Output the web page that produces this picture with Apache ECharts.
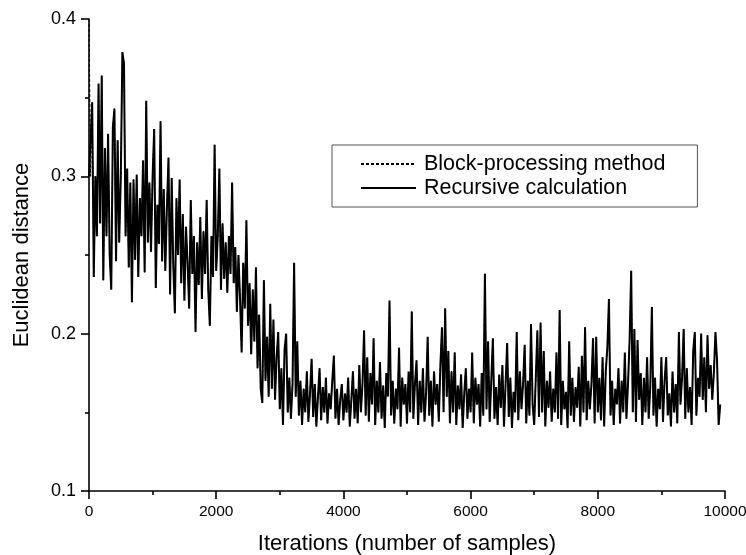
<!DOCTYPE html>
<html>
<head>
<meta charset="utf-8">
<script src="https://cdn.jsdelivr.net/npm/echarts@6/dist/echarts.min.js"></script>
<style>html,body{margin:0;padding:0;background:#fff}#c{width:746px;height:555px}</style>
</head>
<body>
<div id="c"></div>
<script>
const sampleStep = 25;
const xTicks = [0, 2000, 4000, 6000, 8000, 10000];
const yTicks = [0.1, 0.2, 0.3, 0.4];
const seriesNames = ['Block-processing method', 'Recursive calculation'];

// Recursive calculation (every 25 iterations)
const recursiveValues = [
0.300,0.300,0.347,0.236,0.300,0.262,0.359,0.270,0.364,0.234,0.318,0.262,0.327,0.250,0.228,0.331,0.343,0.246,0.323,0.258,
0.300,0.379,0.372,0.262,0.305,0.242,0.296,0.220,0.298,0.247,0.301,0.236,0.286,0.262,0.310,0.239,0.348,0.258,0.296,0.252,
0.300,0.330,0.229,0.282,0.257,0.335,0.246,0.292,0.240,0.280,0.312,0.225,0.299,0.244,0.213,0.286,0.250,0.298,0.232,0.276,
0.221,0.268,0.245,0.216,0.285,0.238,0.262,0.201,0.258,0.231,0.274,0.222,0.265,0.238,0.285,0.228,0.205,0.262,0.236,0.320,
0.240,0.262,0.305,0.228,0.270,0.235,0.258,0.226,0.262,0.238,0.296,0.232,0.255,0.214,0.250,0.222,0.188,0.245,0.216,0.272,
0.205,0.232,0.187,0.228,0.195,0.242,0.178,0.212,0.165,0.156,0.234,0.170,0.198,0.160,0.219,0.165,0.209,0.158,0.185,0.201,
0.152,0.178,0.142,0.190,0.200,0.150,0.172,0.146,0.168,0.245,0.160,0.195,0.148,0.170,0.142,0.165,0.150,0.176,0.144,0.162,
0.184,0.147,0.168,0.141,0.160,0.178,0.145,0.166,0.150,0.172,0.143,0.162,0.152,0.170,0.186,0.146,0.165,0.142,0.158,0.168,
0.145,0.162,0.150,0.172,0.141,0.158,0.176,0.146,0.165,0.143,0.180,0.150,0.168,0.202,0.148,0.185,0.144,0.175,0.155,0.197,
0.142,0.170,0.150,0.182,0.146,0.167,0.140,0.175,0.160,0.221,0.148,0.170,0.143,0.165,0.152,0.191,0.141,0.172,0.155,0.168,
0.143,0.176,0.150,0.214,0.146,0.168,0.183,0.142,0.170,0.150,0.178,0.144,0.162,0.198,0.148,0.170,0.141,0.176,0.155,0.168,
0.144,0.180,0.204,0.150,0.216,0.160,0.189,0.143,0.176,0.150,0.188,0.142,0.167,0.152,0.174,0.140,0.162,0.178,0.146,0.165,
0.150,0.188,0.143,0.172,0.155,0.168,0.141,0.175,0.148,0.238,0.152,0.195,0.144,0.170,0.197,0.146,0.166,0.142,0.174,0.153,
0.180,0.141,0.168,0.194,0.147,0.172,0.140,0.163,0.150,0.201,0.145,0.176,0.152,0.168,0.193,0.143,0.170,0.148,0.206,0.155,
0.142,0.172,0.202,0.147,0.207,0.150,0.189,0.141,0.170,0.153,0.176,0.144,0.165,0.150,0.188,0.146,0.215,0.142,0.170,0.152,
0.163,0.140,0.195,0.148,0.172,0.144,0.166,0.153,0.179,0.141,0.186,0.150,0.204,0.145,0.170,0.152,0.168,0.197,0.143,0.198,
0.150,0.172,0.145,0.185,0.141,0.176,0.191,0.222,0.148,0.170,0.142,0.165,0.155,0.178,0.143,0.170,0.150,0.188,0.146,0.168,
0.196,0.240,0.150,0.203,0.144,0.196,0.158,0.175,0.142,0.172,0.150,0.185,0.146,0.166,0.217,0.148,0.172,0.141,0.165,0.152,
0.185,0.144,0.170,0.185,0.148,0.162,0.141,0.176,0.150,0.168,0.143,0.201,0.155,0.172,0.203,0.146,0.178,0.150,0.166,0.142,
0.189,0.201,0.148,0.172,0.160,0.200,0.158,0.185,0.150,0.199,0.165,0.180,0.158,0.175,0.201,0.183,0.142,0.155
];
// Block-processing method: coincides with the recursive curve except its first value
const blockFirstValue = 0.400;
const blockValues = [blockFirstValue].concat(recursiveValues.slice(1));

const toPairs = vals => vals.map((v, i) => [i * sampleStep, v]);

const chart = echarts.init(document.getElementById('c'), null, {renderer: 'canvas'});
const font = 'Liberation Sans, Arial, sans-serif';
const axisLine = {show: true, onZero: false, lineStyle: {color: '#000', width: 1.6}};
const axisTick = {show: true, length: 8, lineStyle: {color: '#000', width: 1.6}};
const minorTick = {show: true, splitNumber: 2, length: 4, lineStyle: {color: '#000', width: 1.6}};
chart.setOption({
  animation: false,
  backgroundColor: '#fff',
  grid: {left: 89, right: 21, top: 19, bottom: 64, containLabel: false, outerBoundsMode: 'none'},
  legend: {
    orient: 'vertical', left: 332, top: 145,
    padding: [8, 32, 8, 28],
    itemGap: 2, itemWidth: 55, itemHeight: 14,
    backgroundColor: '#fff', borderColor: '#555', borderWidth: 1,
    itemStyle: {opacity: 0},
    textStyle: {fontFamily: font, fontSize: 21.5, lineHeight: 20, color: '#000', padding: [0, 0, 0, 3]},
    data: seriesNames
  },
  xAxis: {
    type: 'value', min: 0, max: 10000, interval: 2000,
    name: 'Iterations (number of samples)', nameLocation: 'middle', nameGap: 42,
    nameTextStyle: {fontFamily: font, fontSize: 22, color: '#000'},
    axisLine, axisTick, minorTick, splitLine: {show: false},
    axisLabel: {fontFamily: font, fontSize: 15.5, color: '#000', margin: 13,
      formatter: v => xTicks.includes(v) ? String(v) : ''}
  },
  yAxis: {
    type: 'value', min: 0.1, max: 0.4, interval: 0.1,
    name: 'Euclidean distance', nameLocation: 'middle', nameGap: 56,
    nameTextStyle: {fontFamily: font, fontSize: 22, color: '#000'},
    axisLine, axisTick, minorTick, splitLine: {show: false},
    axisLabel: {fontFamily: font, fontSize: 18, color: '#000', margin: 13,
      formatter: v => { const t = yTicks.find(y => Math.abs(y - v) < 1e-6); return t !== undefined ? t.toFixed(1) : ''; }}
  },
  series: [
    {name: seriesNames[0], type: 'line', data: toPairs(blockValues), symbol: 'none',
     lineStyle: {color: '#000', width: 1, type: [3, 2]}, itemStyle: {color: '#000'}},
    {name: seriesNames[1], type: 'line', data: toPairs(recursiveValues), symbol: 'none',
     lineStyle: {color: '#000', width: 2}, itemStyle: {color: '#000'}}
  ]
});
</script>
</body>
</html>
